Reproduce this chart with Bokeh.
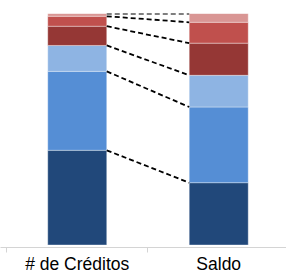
from bokeh.plotting import figure
from bokeh.models import Range1d, FixedTicker, ColumnDataSource
from bokeh.embed import file_html
from bokeh.resources import INLINE
import numpy as np

# Data (shares in %, bottom to top)
categories = ["# de Créditos", "Saldo"]
cat_pos = [0.5, 1.5]
seg1 = [40.9, 26.9]   # dark blue
seg2 = [34.1, 32.7]   # medium blue
seg3 = [11.2, 13.7]   # light blue
seg4 = [8.3, 13.9]    # dark red
seg5 = [4.3, 9.0]     # red
seg6 = [1.2, 3.8]     # pink
series = [seg1, seg2, seg3, seg4, seg5, seg6]
colors = ["#21487A", "#558ED5", "#8EB4E3", "#953735", "#C0504D", "#D99694"]

bar_w = 0.417

p = figure(width=286, height=276, output_backend="svg", toolbar_location=None,
           x_range=Range1d(-0.0424, 1.979), y_range=Range1d(-1.1, 100),
           min_border_top=13, min_border_bottom=29, min_border_left=0, min_border_right=0,
           y_axis_location=None)
p.outline_line_color = None
p.grid.visible = False

bottoms = np.zeros(2)
for vals, c in zip(series, colors):
    v = np.array(vals)
    p.vbar(x=cat_pos, bottom=bottoms, top=bottoms + v, width=bar_w,
           fill_color=c, line_color="white", line_alpha=0.35, line_width=1)
    bottoms = bottoms + v

# dashed connectors between cumulative boundaries
cum = np.cumsum(np.array(series), axis=0)
x0 = cat_pos[0] + bar_w / 2
x1 = cat_pos[1] - bar_w / 2
src = ColumnDataSource(dict(x0=[x0] * len(cum), x1=[x1] * len(cum),
                            y0=list(cum[:, 0]), y1=list(cum[:, 1])))
p.segment(x0="x0", y0="y0", x1="x1", y1="y1", source=src,
          line_color="black", line_width=1.8, line_dash="5 3")

ax = p.xaxis[0]
ax.ticker = FixedTicker(ticks=cat_pos, minor_ticks=[0, 1, 2])
ax.major_label_overrides = {0.5: categories[0], 1.5: categories[1]}
ax.axis_line_color = "#D4D4D4"
ax.axis_line_width = 1
ax.major_tick_line_color = None
ax.major_tick_out = 0
ax.major_tick_in = 0
ax.minor_tick_line_color = "#D4D4D4"
ax.minor_tick_out = 5
ax.minor_tick_in = 0
ax.major_label_standoff = 1
ax.major_label_text_font = "Liberation Sans"
ax.major_label_text_font_size = "17.5px"
ax.major_label_text_color = "black"

open("out.html", "w").write(file_html(p, INLINE))
